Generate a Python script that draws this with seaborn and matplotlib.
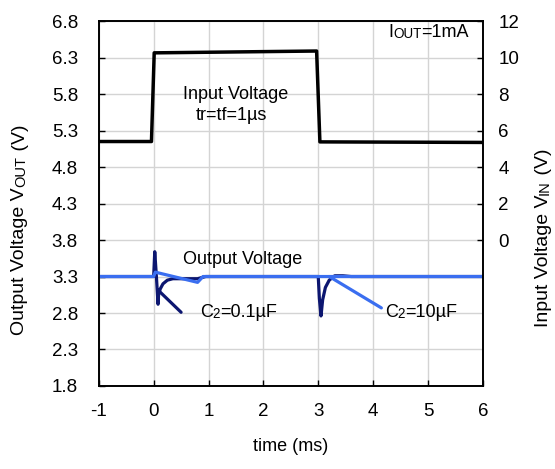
import matplotlib
matplotlib.use("Agg")
import matplotlib.pyplot as plt
import seaborn as sns
import numpy as np

# input step (right axis, V)
t_in = [-1.0, -0.04, 0.01, 2.97, 3.03, 6.0]
v_in = [5.4, 5.4, 10.26, 10.36, 5.38, 5.35]

# output, C2 = 0.1uF (left axis, V)
t_c01 = [-1.0, 0.0, 0.02, 0.05, 0.08, 0.09, 0.12, 0.17, 0.25, 0.35, 0.55, 0.8, 0.95,
         3.0, 3.02, 3.05, 3.08, 3.13, 3.2, 3.3, 3.45, 3.6, 6.0]
v_c01 = [3.3, 3.3, 3.64, 3.3, 2.92, 3.05, 3.13, 3.2, 3.25, 3.27, 3.27, 3.27, 3.3,
         3.3, 3.0, 2.76, 2.98, 3.15, 3.25, 3.31, 3.31, 3.3, 3.3]
lead_c01_t = [0.1, 0.5]
lead_c01_v = [3.1, 2.81]

# output, C2 = 10uF
t_c10 = [-1.0, 0.0, 0.03, 0.8, 0.9, 3.0, 6.0]
v_c10 = [3.3, 3.3, 3.36, 3.22, 3.3, 3.3, 3.3]
lead_c10_t = [3.2, 4.15]
lead_c10_v = [3.3, 2.87]

x_ticks = [-1, 0, 1, 2, 3, 4, 5, 6]
y_ticks = [1.8, 2.3, 2.8, 3.3, 3.8, 4.3, 4.8, 5.3, 5.8, 6.3, 6.8]
y2_ticks = [0, 2, 4, 6, 8, 10, 12]

sns.set_style("ticks")
plt.rcParams['font.family'] = ['Liberation Sans', 'DejaVu Sans']
plt.rcParams['axes.unicode_minus'] = False
plt.rcParams['text.color'] = 'black'
plt.rcParams['axes.labelcolor'] = 'black'

navy = "#0c1670"
light = "#3a6ef0"
fs = 13
tfs = 13.5

fig, ax = plt.subplots(figsize=(5.55, 4.69), dpi=100)
fig.subplots_adjust(left=0.178, right=0.870, top=0.955, bottom=0.177)

sns.lineplot(x=t_c01, y=v_c01, ax=ax, color=navy, lw=2.3, estimator=None, sort=False)
sns.lineplot(x=lead_c01_t, y=lead_c01_v, ax=ax, color=navy, lw=2.3, estimator=None, sort=False)
sns.lineplot(x=t_c10, y=v_c10, ax=ax, color=light, lw=2.3, estimator=None, sort=False)
sns.lineplot(x=lead_c10_t, y=lead_c10_v, ax=ax, color=light, lw=2.3, estimator=None, sort=False)

ax.set_xlim(-1, 6)
ax.set_ylim(1.8, 6.8)
ax.set_xticks(x_ticks)
ax.set_yticks(y_ticks)
ax.set_yticklabels([f"{v:.1f}" for v in y_ticks])
ax.grid(True, color="#d4d4d4", lw=1)
ax.tick_params(axis="both", direction="in", length=4, width=1, labelsize=tfs, colors="black")
ax.tick_params(axis="y", pad=15)
ax.tick_params(axis="x", pad=12)
for s in ax.spines.values():
    s.set_color("black")
    s.set_linewidth(1.2)
ax.set_xlabel("time (ms)", fontsize=fs, labelpad=13)

ax2 = ax.twinx()
sns.lineplot(x=t_in, y=v_in, ax=ax2, color="black", lw=2.5, estimator=None, sort=False)
ax2.set_ylim(-8, 12)
ax2.set_yticks(y2_ticks)
ax2.tick_params(axis="y", direction="in", length=4, width=1, labelsize=tfs, pad=11, colors="black")
ax2.grid(False)
for s in ax2.spines.values():
    s.set_color("black")
    s.set_linewidth(1.2)


def chain(parts, x, y, coords, rot=0, **kw):
    # pieces of text sitting on one baseline, smaller ones for subscripts
    txt, size = parts[0]
    if rot == 0:
        prev = ax.text(x, y, txt, fontsize=size, transform=coords, ha="left", va="bottom", **kw)
        for txt, size in parts[1:]:
            prev = ax.annotate(txt, xy=(1, 0), xycoords=prev, fontsize=size, ha="left", va="bottom", **kw)
    else:
        prev = fig.text(x, y, txt, fontsize=size, rotation=90, ha="center", va="bottom", **kw)
        for txt, size in parts[1:]:
            prev = ax.annotate(txt, xy=(1, 1), xycoords=prev, fontsize=size, rotation=90,
                               ha="right", va="bottom", annotation_clip=False, **kw)


sub = 0.75
chain([("Output Voltage V", 14), ("OUT", 14 * sub), (" (V)", 14)], 20 / 555, 1 - 335 / 469, None, rot=90)
chain([("Input Voltage V", 14), ("IN", 14 * sub), (" (V)", 14)], 543 / 555, 1 - 327 / 469, None, rot=90)

chain([("I", fs), ("OUT", fs * sub), ("=1mA", fs)], 4.27, 6.53, ax.transData)
chain([("C", fs), ("2", fs * sub), ("=0.1µF", fs)], 0.84, 2.69, ax.transData)
chain([("C", fs), ("2", fs * sub), ("=10µF", fs)], 4.21, 2.69, ax.transData)

ax.text(1.49, 5.79, "Input Voltage", fontsize=fs, ha="center", va="center")
ax.text(1.42, 5.51, "tr=tf=1µs", fontsize=fs, ha="center", va="center")
ax.text(1.62, 3.54, "Output Voltage", fontsize=fs, ha="center", va="center")

fig.savefig("out.png", dpi=100)
